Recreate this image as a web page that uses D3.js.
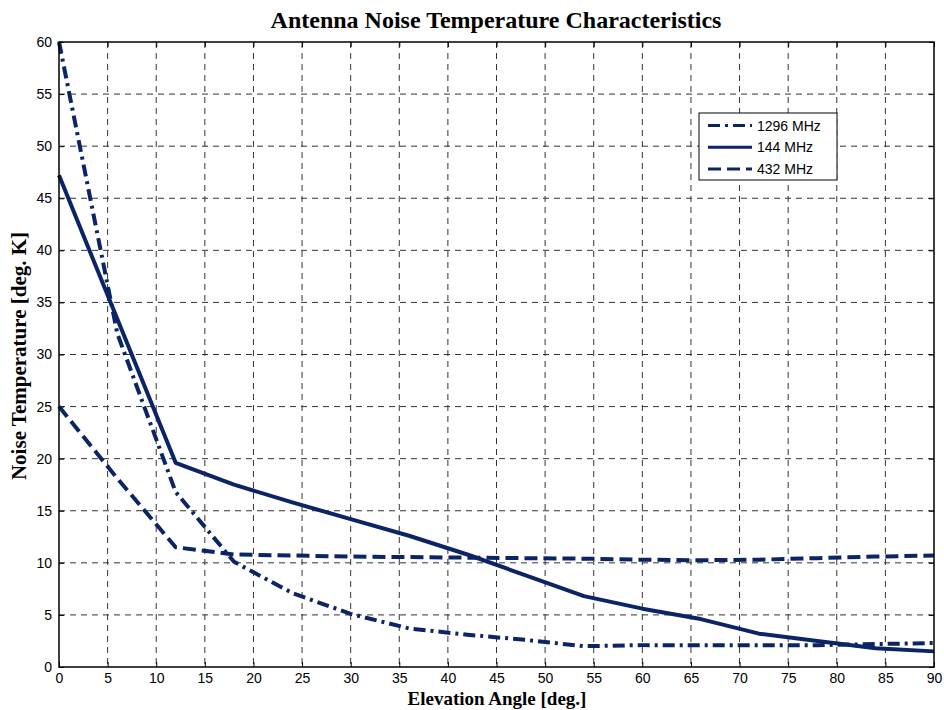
<!DOCTYPE html>
<html>
<head>
<meta charset="utf-8">
<script src="https://cdn.jsdelivr.net/npm/d3@7"></script>
<style>
  body { margin: 0; background: #fff; }
  text { font-family: "Liberation Sans", Arial, sans-serif; }
</style>
</head>
<body>
<div id="chart"></div>
<script>
// elevation angles (deg)
const angles = [0, 6, 12, 18, 24, 30, 36, 42, 48, 54, 60, 66, 72, 78, 84, 90];
// noise temperature (K) per band
const mhz1296 = [60, 32, 16.8, 10.1, 7.1, 5.1, 3.7, 3.1, 2.6, 2.0, 2.1, 2.1, 2.1, 2.1, 2.2, 2.3];
const mhz144 = [47.2, 33.4, 19.6, 17.5, 15.8, 14.2, 12.6, 10.8, 8.8, 6.8, 5.6, 4.6, 3.2, 2.5, 1.8, 1.5];
const mhz432 = [25, 18.1, 11.5, 10.8, 10.7, 10.6, 10.55, 10.5, 10.45, 10.4, 10.3, 10.25, 10.3, 10.45, 10.6, 10.7];
const seriesNames = ["1296 MHz", "144 MHz", "432 MHz"];
const xTicks = d3.range(0, 91, 5);
const yTicks = d3.range(0, 61, 5);

const width = 944, height = 710;
const margin = { left: 59, right: 10, top: 42, bottom: 43 };
const lineColor = "#0b2466";
const dashes = ["12,5,3,5", null, "13,6"];

const svg = d3.select("#chart").append("svg")
    .attr("width", width)
    .attr("height", height);

const x = d3.scaleLinear().domain([0, 90]).range([margin.left, width - margin.right]);
const y = d3.scaleLinear().domain([0, 60]).range([height - margin.bottom, margin.top]);

// grid
svg.append("g")
    .selectAll("line")
    .data(xTicks.slice(1, -1))
    .join("line")
    .attr("x1", d => x(d)).attr("x2", d => x(d))
    .attr("y1", y(60)).attr("y2", y(0))
    .attr("stroke", "#333").attr("stroke-width", 1)
    .attr("stroke-dasharray", "6,5");
svg.append("g")
    .selectAll("line")
    .data(yTicks.slice(1, -1))
    .join("line")
    .attr("x1", x(0)).attr("x2", x(90))
    .attr("y1", d => y(d)).attr("y2", d => y(d))
    .attr("stroke", "#333").attr("stroke-width", 1)
    .attr("stroke-dasharray", "6,5");

// axes (inward ticks on all sides)
const fmt = d3.format("d");
svg.append("g")
    .attr("transform", `translate(0,${y(0)})`)
    .call(d3.axisBottom(x).tickValues(xTicks).tickFormat(fmt).tickSizeInner(-5).tickSizeOuter(0).tickPadding(6))
    .call(g => g.select(".domain").remove());
svg.append("g")
    .attr("transform", `translate(${x(0)},0)`)
    .call(d3.axisLeft(y).tickValues(yTicks).tickFormat(fmt).tickSizeInner(-5).tickSizeOuter(0).tickPadding(7))
    .call(g => g.select(".domain").remove());
svg.append("g")
    .attr("transform", `translate(0,${y(60)})`)
    .call(d3.axisTop(x).tickValues(xTicks).tickFormat("").tickSizeInner(-5).tickSizeOuter(0))
    .call(g => g.select(".domain").remove());
svg.append("g")
    .attr("transform", `translate(${x(90)},0)`)
    .call(d3.axisRight(y).tickValues(yTicks).tickFormat("").tickSizeInner(-5).tickSizeOuter(0))
    .call(g => g.select(".domain").remove());
svg.selectAll(".tick text")
    .attr("font-size", 14)
    .attr("font-family", "Liberation Sans, Arial, sans-serif")
    .attr("fill", "#000");
svg.selectAll(".tick line").attr("stroke", "#000");

// lines
const line = d3.line().x(d => x(d[0])).y(d => y(d[1]));
const allSeries = [mhz1296, mhz144, mhz432];
const plot = svg.append("g");
allSeries.forEach((vals, i) => {
    plot.append("path")
        .datum(angles.map((a, j) => [a, vals[j]]))
        .attr("d", line)
        .attr("fill", "none")
        .attr("stroke", lineColor)
        .attr("stroke-width", 4)
        .attr("stroke-linejoin", "round")
        .attr("stroke-dasharray", dashes[i]);
});

// box
svg.append("rect")
    .attr("x", x(0)).attr("y", y(60))
    .attr("width", x(90) - x(0)).attr("height", y(0) - y(60))
    .attr("fill", "none").attr("stroke", "#000").attr("stroke-width", 1.5);

// legend
const lg = svg.append("g").attr("transform", "translate(699,113)");
lg.append("rect")
    .attr("width", 138).attr("height", 67)
    .attr("fill", "#fff").attr("stroke", "#000").attr("stroke-width", 1);
seriesNames.forEach((name, i) => {
    const ly = 12.5 + i * 21.7;
    lg.append("line")
        .attr("x1", 9).attr("x2", 53)
        .attr("y1", ly).attr("y2", ly)
        .attr("stroke", lineColor).attr("stroke-width", 3)
        .attr("stroke-dasharray", dashes[i]);
    lg.append("text")
        .attr("x", 58).attr("y", ly + 5)
        .attr("font-size", 14)
        .text(name);
});

// titles
svg.append("text")
    .attr("x", 496).attr("y", 28)
    .attr("text-anchor", "middle")
    .style("font-family", "Liberation Serif, Times New Roman, serif")
    .style("font-weight", "bold").style("font-size", "24px")
    .text("Antenna Noise Temperature Characteristics");
svg.append("text")
    .attr("x", 497).attr("y", 705)
    .attr("text-anchor", "middle")
    .style("font-family", "Liberation Serif, Times New Roman, serif")
    .style("font-weight", "bold").style("font-size", "19px")
    .text("Elevation Angle [deg.]");
svg.append("text")
    .attr("transform", "translate(26,356) rotate(-90)")
    .attr("text-anchor", "middle")
    .style("font-family", "Liberation Serif, Times New Roman, serif")
    .style("font-weight", "bold").style("font-size", "21px")
    .text("Noise Temperature [deg. K]");
</script>
</body>
</html>
